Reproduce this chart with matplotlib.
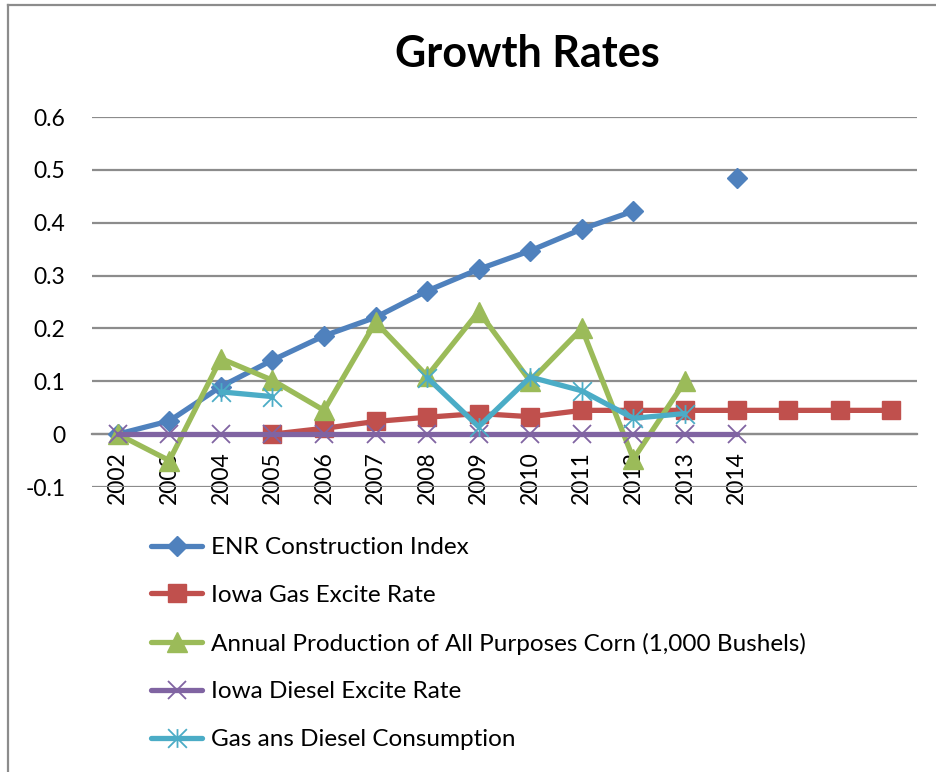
import numpy as np
import matplotlib
matplotlib.use("Agg")
import matplotlib.pyplot as plt
from matplotlib.path import Path
from matplotlib.lines import Line2D

plt.rcParams['font.family'] = ['Lato', 'DejaVu Sans']

nan = np.nan

# Category labels (three trailing unlabeled periods)
categories = ['2002', '2003', '2004', '2005', '2006', '2007', '2008',
              '2009', '2010', '2011', '2012', '2013', '2014', '', '', '']

enr_index = [0.0, 0.025, 0.09, 0.14, 0.186, 0.221, 0.271, 0.312, 0.347,
             0.388, 0.422, nan, 0.484, nan, nan, nan]
gas_excise = [nan, nan, nan, 0.0, 0.011, 0.024, 0.032, 0.039, 0.033,
              0.045, 0.045, 0.045, 0.045, 0.045, 0.045, 0.045]
corn_production = [0.0, -0.05, 0.143, 0.102, 0.045, 0.212, 0.11, 0.232,
                   0.10, 0.20, -0.047, 0.10, nan, nan, nan, nan]
diesel_excise = [0.0] * 13 + [nan, nan, nan]
fuel_consumption = [nan, nan, 0.080, 0.071, nan, nan, 0.107, 0.014,
                    0.108, 0.082, 0.030, 0.039, nan, nan, nan, nan]

series_labels = ['ENR Construction Index',
                 'Iowa Gas Excite Rate',
                 'Annual Production of All Purposes Corn (1,000 Bushels)',
                 'Iowa Diesel Excite Rate',
                 'Gas ans Diesel Consumption']

y_ticks = [-0.1, 0, 0.1, 0.2, 0.3, 0.4, 0.5, 0.6]
y_tick_labels = ['-0.1', '0', '0.1', '0.2', '0.3', '0.4', '0.5', '0.6']

# Asterisk marker: an X with a vertical stroke
asterisk = Path([(-0.5, -0.5), (0.5, 0.5), (-0.5, 0.5), (0.5, -0.5),
                 (0.0, -0.5), (0.0, 0.5)],
                [Path.MOVETO, Path.LINETO, Path.MOVETO, Path.LINETO,
                 Path.MOVETO, Path.LINETO])

W, H = 937, 772
fig = plt.figure(figsize=(W / 100, H / 100), dpi=100)
fig.patch.set_facecolor('white')

left, right, top, bottom = 92, 917, 117, 487
ax = fig.add_axes([left / W, 1 - bottom / H, (right - left) / W, (bottom - top) / H])

grid_color = '#8C8C8C'
# Category axis sits on the zero line
ax.spines['bottom'].set_position(('data', 0))
ax.spines['bottom'].set_color(grid_color)
ax.spines['bottom'].set_linewidth(1.6)
ax.spines['bottom'].set_zorder(0.5)
for side in ['top', 'right', 'left']:
    ax.spines[side].set_visible(False)

x = np.arange(len(categories))
lw = 3.8
common = dict(linewidth=lw, solid_joinstyle='round', solid_capstyle='round')

styles = [
    (enr_index, '#4F81BD', dict(marker='D', markersize=10)),
    (gas_excise, '#C0504D', dict(marker='s', markersize=13.5)),
    (corn_production, '#9BBB59', dict(marker='^', markersize=14)),
    (diesel_excise, '#8064A2', dict(marker='x', markersize=13.5, markeredgewidth=1.3)),
    (fuel_consumption, '#4BACC6', dict(marker=asterisk, markersize=13.5,
                                       markeredgewidth=1.3, markerfacecolor='none')),
]

handles = []
for (vals, color, mk), label in zip(styles, series_labels):
    kw = dict(common)
    kw.update(mk)
    kw.setdefault('markerfacecolor', color)
    line, = ax.plot(x, vals, color=color, markeredgecolor=color, label=label, **kw)
    handles.append(line)

ax.set_xlim(-0.5, len(categories) - 0.5)
ax.set_ylim(-0.1, 0.6)
ax.set_yticks(y_ticks)
ax.set_yticklabels(y_tick_labels)
ax.set_xticks(x)
ax.set_xticklabels(categories)

ax.yaxis.grid(True, color=grid_color, linewidth=1.6)
ax.set_axisbelow(True)
ax.tick_params(axis='both', length=0, labelsize=16.5, colors='black')
ax.tick_params(axis='y', pad=19)
ax.tick_params(axis='x', pad=12, labelrotation=90)

fig.text(527 / W, 1 - 67 / H, 'Growth Rates', ha='center', va='baseline',
         fontsize=31, fontweight='bold')

fig.legend(handles=handles, labels=series_labels, loc='upper left',
           bbox_to_anchor=(151 / W, 1 - 537 / H), bbox_transform=fig.transFigure,
           frameon=False, borderpad=0, borderaxespad=0, fontsize=17.5,
           handlelength=2.1, handletextpad=0.37, labelspacing=1.10, numpoints=1)

# Outer chart frame (clipped on the right and bottom)
fx0, fy0 = 8 / W, 1 - 5 / H
fig.add_artist(Line2D([fx0, fx0], [fy0, 0], transform=fig.transFigure,
                      color=grid_color, linewidth=1.6))
fig.add_artist(Line2D([fx0, 1], [fy0, fy0], transform=fig.transFigure,
                      color=grid_color, linewidth=1.6))

fig.savefig('out.png', dpi=100)
